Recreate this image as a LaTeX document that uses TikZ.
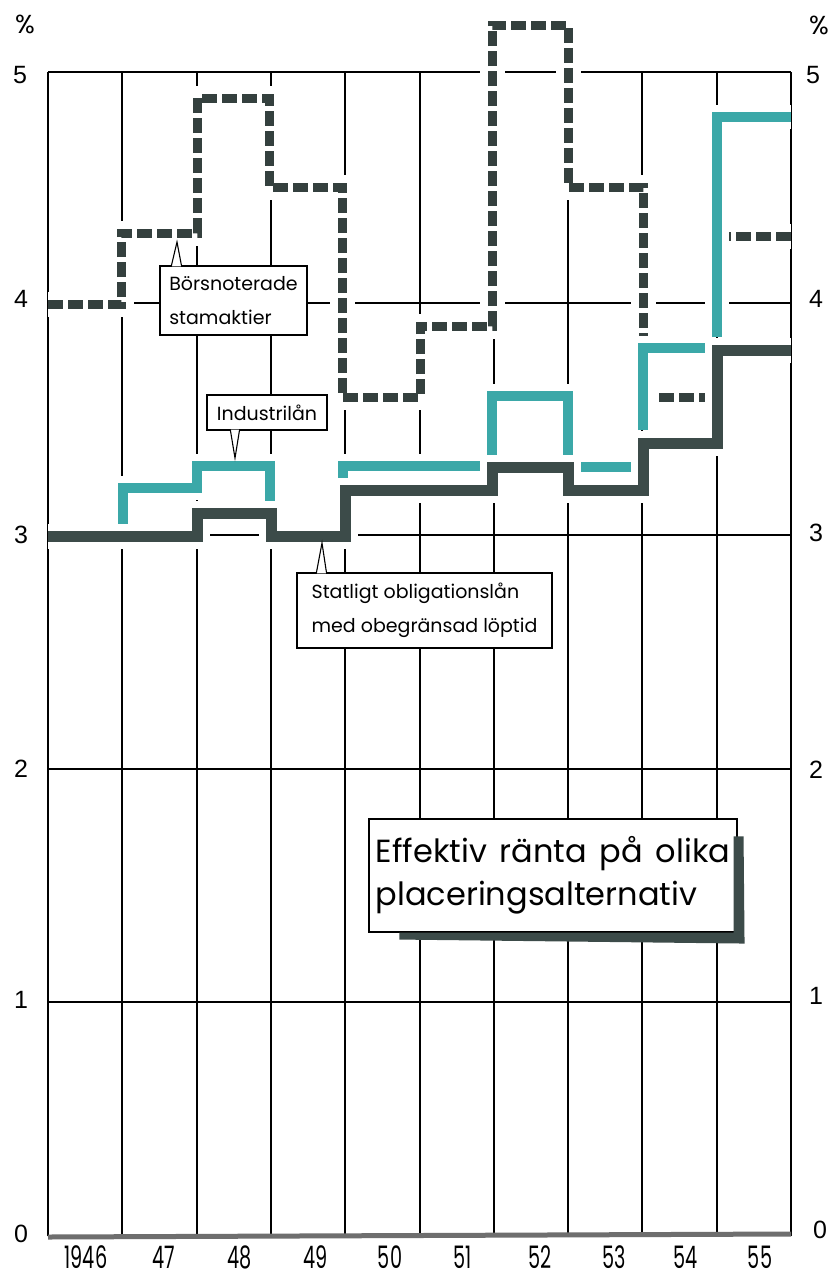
\documentclass[tikz,border=0pt]{standalone}
\usepackage{fontspec}
\setmainfont{Poppins}
\newfontfamily\axisfont{Liberation Sans}
\usetikzlibrary{calc}
\definecolor{tealline}{HTML}{3BA8A8}
\definecolor{darkline}{HTML}{3C4B49}
\definecolor{dashline}{HTML}{34403E}
\definecolor{axisgray}{HTML}{6E6E6E}
\newcommand{\widespace}{\spaceskip=0.4em plus 0.1em\relax}
\tikzset{
  gridline/.style={line width=1.2pt, black},
  stamline/.style={dashline, line width=9pt, dash pattern=on 15pt off 5pt,
    preaction={draw=white, line width=25pt, solid}},
  indline/.style={tealline, line width=10pt,
    preaction={draw=white, line width=24pt}},
  statline/.style={darkline, line width=11pt,
    preaction={draw=white, line width=25pt}},
  boxed/.style={draw=black, line width=1.1pt, fill=white, inner sep=0pt},
  lbl/.style={boxed, font=\fontsize{19}{34}\selectfont, align=left},
  ttl/.style={boxed, font=\fontsize{32}{43}\selectfont, align=left},
  axislbl/.style={font=\axisfont\fontsize{25}{26}\selectfont, inner sep=0pt},
  pctlbl/.style={font=\fontsize{26}{28}\selectfont, inner sep=0pt},
  yearlbl/.style={font=\fontsize{31}{32}\selectfont, inner sep=0pt},
}
\newcommand{\yr}[1]{\scalebox{0.62}[1]{#1}}
\begin{document}
\begin{tikzpicture}[x=1pt,y=-1pt]
\useasboundingbox (0,0) rectangle (837,1277);
\fill[white] (0,0) rectangle (837,1277);
% grid
\foreach \x in {48,122,197,271,345,420,494,568,642,717,791}
  \draw[gridline] (\x,72) -- (\x,1236);
\foreach \y in {72,303,535,769,1002}
  \draw[gridline] (48,\y) -- (791,\y);
\draw[axisgray, line width=5pt] (48,1237) -- (791,1234);
% Boersnoterade stamaktier (dashed)
\draw[stamline] (48,304) -- (121,304) -- (121,233) -- (197,233) -- (197,98)
  -- (269,98) -- (269,187) -- (342,187) -- (342,397) -- (420,397) -- (420,326)
  -- (492,326) -- (492,25) -- (568,25) -- (568,187) -- (643,187) -- (643,397)
  -- (716,397);
\draw[stamline] (716,236) -- (791,236);
% Industrilan (teal)
\draw[indline] (123,525) -- (123,488) -- (197,488) -- (197,466) -- (270,466) -- (270,505);
\draw[indline] (343,478) -- (343,466) -- (482,466);
\draw[indline] (492,457) -- (492,396) -- (568,396) -- (568,457);
\draw[indline] (580,467) -- (632,467);
\draw[indline] (643,430) -- (643,348) -- (707,348);
\draw[indline] (717,337) -- (717,117) -- (791,117);
% Statligt obligationslan (dark)
\draw[statline] (48,536) -- (197,536) -- (197,513) -- (271,513) -- (271,536)
  -- (345,536) -- (345,490) -- (492,490) -- (492,467) -- (568,467) -- (568,490)
  -- (643,490) -- (643,443) -- (717,443) -- (717,350) -- (791,350);
% callouts
\node[lbl, minimum width=147pt, minimum height=69pt] (bors) at (233.5,300.5)
  {B\"orsnoterade\\stamaktier};
\coordinate (borstip) at (177,242);
\fill[white] ($(bors.north west)+(12.5,1)$) -- (borstip) -- ($(bors.north west)+(21.5,1)$) -- cycle;
\draw[line width=1.1pt] ($(bors.north west)+(12,0)$) -- (borstip) -- ($(bors.north west)+(22,0)$);

\node[lbl, minimum width=120pt, minimum height=35pt] (ind) at (267,412.5)
  {Industril\aa n};
\coordinate (indtip) at (235,458);
\fill[white] ($(ind.south west)+(24.5,-1)$) -- (indtip) -- ($(ind.south west)+(32.5,-1)$) -- cycle;
\draw[line width=1.1pt] ($(ind.south west)+(24,0)$) -- (indtip) -- ($(ind.south west)+(33,0)$);

\node[lbl, minimum width=255pt, minimum height=75pt] (stat) at (424.5,610.5)
  {Statligt obligationsl\aa n\\med obegr\"ansad l\"optid};
\coordinate (stattip) at (322,543);
\fill[white] ($(stat.north west)+(20.5,1)$) -- (stattip) -- ($(stat.north west)+(29.5,1)$) -- cycle;
\draw[line width=1.1pt] ($(stat.north west)+(20,0)$) -- (stattip) -- ($(stat.north west)+(30,0)$);

% title with shadow
\node[ttl, minimum width=368pt, minimum height=113pt] (title) at (553,875.5)
  {\widespace Effektiv r\"anta p\aa\ olika\\placeringsalternativ};
\fill[darkline] ($(title.north east)+(-4,18)$) -- ($(title.north east)+(6,18)$)
  -- ($(title.south east)+(7,11)$) -- ($(title.south west)+(31,7)$)
  -- ($(title.south west)+(31,0)$) -- ($(title.south east)+(-4,0)$) -- cycle;
% axis labels
\node[pctlbl] (pctl) at (25,24) {\%};
\node[pctlbl] (pctr) at (819,25) {\%};
\node[axislbl] (l5) at (20,75) {5};
\node[axislbl] (l4) at (21,299) {4};
\node[axislbl] (l3) at (21,535) {3};
\node[axislbl] (l2) at (21,769) {2};
\node[axislbl] (l1) at (21,1000) {1};
\node[axislbl] (l0) at (21,1234) {0};
\node[axislbl] (r5) at (813,75) {5};
\node[axislbl] (r4) at (816,299) {4};
\node[axislbl] (r3) at (816,533) {3};
\node[axislbl] (r2) at (816,770) {2};
\node[axislbl] (r1) at (816,996) {1};
\node[axislbl] (r0) at (820,1230) {0};
% years
\node[yearlbl] (y46) at (86,1257) {\yr{1946}};
\node[yearlbl] (y47) at (164,1257) {\yr{47}};
\node[yearlbl] (y48) at (240,1257) {\yr{48}};
\node[yearlbl] (y49) at (316,1257) {\yr{49}};
\node[yearlbl] (y50) at (390,1257) {\yr{50}};
\node[yearlbl] (y51) at (463,1257) {\yr{51}};
\node[yearlbl] (y52) at (540,1257) {\yr{52}};
\node[yearlbl] (y53) at (614,1257) {\yr{53}};
\node[yearlbl] (y54) at (686,1257) {\yr{54}};
\node[yearlbl] (y55) at (760,1257) {\yr{55}};
\end{tikzpicture}
\end{document}
